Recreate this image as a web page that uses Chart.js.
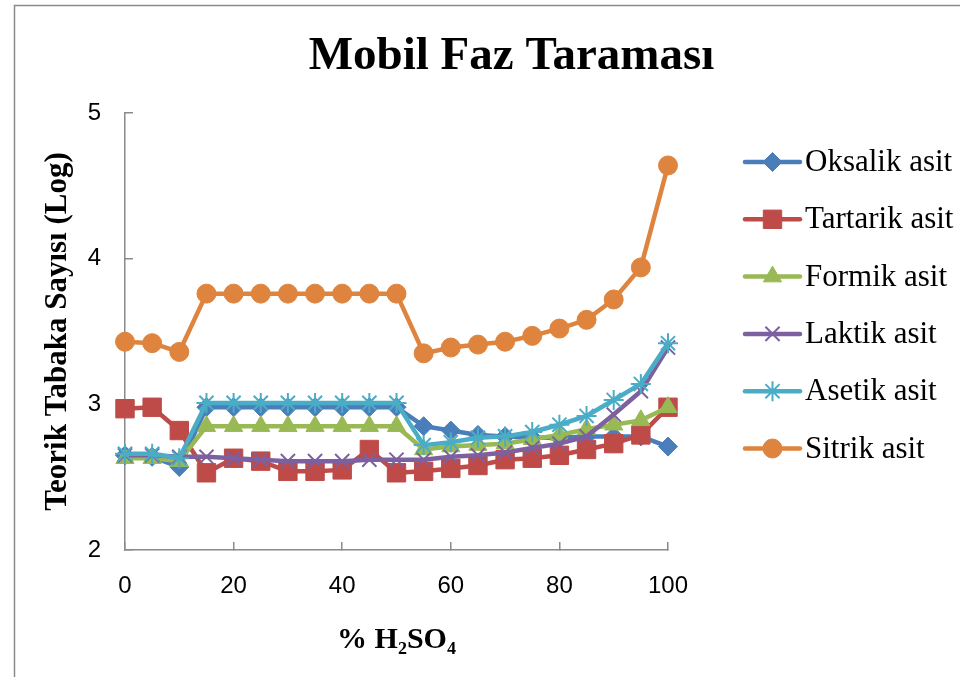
<!DOCTYPE html>
<html>
<head>
<meta charset="utf-8">
<title>Mobil Faz Taraması</title>
<script src="https://cdn.jsdelivr.net/npm/chart.js@4.4.1/dist/chart.umd.min.js"></script>
<style>
  html, body { margin: 0; padding: 0; background: #fff; overflow: hidden; }
  #chart { display: block; }
</style>
</head>
<body>
<canvas id="chart" width="1003" height="677"></canvas>
<script>
// % H2SO4 in the mobile phase
const pct = [0, 5, 10, 15, 20, 25, 30, 35, 40, 45, 50, 55, 60, 65, 70, 75, 80, 85, 90, 95, 100];

// theoretical plate number (log) per acid
const oksalik  = [2.65, 2.64, 2.57, 2.98, 2.98, 2.98, 2.98, 2.98, 2.98, 2.98, 2.98, 2.85, 2.82, 2.79, 2.78, 2.77, 2.77, 2.78, 2.78, 2.78, 2.71];
const tartarik = [2.97, 2.98, 2.82, 2.53, 2.63, 2.61, 2.54, 2.54, 2.55, 2.69, 2.53, 2.54, 2.56, 2.58, 2.62, 2.63, 2.65, 2.69, 2.73, 2.79, 2.98];
const formik   = [2.63, 2.63, 2.61, 2.85, 2.85, 2.85, 2.85, 2.85, 2.85, 2.85, 2.85, 2.69, 2.71, 2.72, 2.73, 2.76, 2.79, 2.83, 2.86, 2.89, 2.98];
const laktik   = [2.65, 2.65, 2.64, 2.64, 2.63, 2.62, 2.61, 2.61, 2.61, 2.62, 2.62, 2.62, 2.64, 2.65, 2.67, 2.70, 2.73, 2.78, 2.93, 3.09, 3.39];
const asetik   = [2.66, 2.66, 2.63, 3.01, 3.01, 3.01, 3.01, 3.01, 3.01, 3.01, 3.01, 2.72, 2.74, 2.77, 2.78, 2.81, 2.86, 2.92, 3.03, 3.14, 3.42];
const sitrik   = [3.43, 3.42, 3.36, 3.76, 3.76, 3.76, 3.76, 3.76, 3.76, 3.76, 3.76, 3.35, 3.39, 3.41, 3.43, 3.47, 3.52, 3.58, 3.72, 3.94, 4.64];

const seriesNames = ["Oksalik asit", "Tartarik asit", "Formik asit", "Laktik asit", "Asetik asit", "Sitrik asit"];
const seriesValues = [oksalik, tartarik, formik, laktik, asetik, sitrik];
const yTicks = [2, 3, 4, 5];
const xTicks = [0, 20, 40, 60, 80, 100];

const colors  = ["#4A7EBB", "#BE4B48", "#98B954", "#7D60A0", "#4BACC6", "#DE843E"];
const markers = ["rectRot", "rect", "triangle", "crossRot", "star", "circle"];
const radii   = [9.5, 13, 10.5, 10, 10, 9.5];

const serif = "'Liberation Serif', 'Times New Roman', serif";
const sans = "'Liberation Sans', Arial, sans-serif";

const datasets = seriesNames.map(function(name, i) {
  const lineMarker = markers[i] === "crossRot" || markers[i] === "star";
  return {
    label: name,
    data: seriesValues[i].map(function(v, k) { return { x: pct[k], y: v }; }),
    borderColor: colors[i],
    backgroundColor: colors[i],
    borderWidth: 4.5,
    pointStyle: markers[i],
    pointRadius: radii[i],
    pointBorderWidth: lineMarker ? 2 : 1,
    pointBorderColor: colors[i],
    pointBackgroundColor: colors[i],
    tension: 0,
    clip: false,
    order: seriesNames.length - 1 - i   // later series drawn on top
  };
});

// outer frame of the chart object
const framePlugin = {
  id: "frame",
  beforeDraw(chart) {
    const ctx = chart.ctx;
    ctx.save();
    ctx.fillStyle = "#fff";
    ctx.fillRect(0, 0, chart.width, chart.height);
    ctx.strokeStyle = "#8a8a8a";
    ctx.lineWidth = 1.5;
    ctx.strokeRect(14.5, 5.5, chart.width + 50, chart.height + 50);
    ctx.restore();
  }
};

// legend with a short line through each marker
const lineLegend = {
  id: "lineLegend",
  afterDraw(chart) {
    const ctx = chart.ctx;
    const area = chart.chartArea;
    const x0 = area.right + 77;
    const x1 = area.right + 132;
    const xm = (x0 + x1) / 2;
    ctx.save();
    chart.data.datasets.forEach(function(ds, i) {
      const y = area.top + 49 + i * 57.3;
      ctx.strokeStyle = ds.borderColor;
      ctx.lineWidth = 4.5;
      ctx.lineCap = "round";
      ctx.beginPath();
      ctx.moveTo(x0, y);
      ctx.lineTo(x1, y);
      ctx.stroke();
      ctx.lineCap = "butt";
      ctx.fillStyle = ds.pointBackgroundColor;
      ctx.strokeStyle = ds.pointBorderColor;
      ctx.lineWidth = ds.pointBorderWidth;
      Chart.helpers.drawPoint(ctx, {
        pointStyle: ds.pointStyle,
        radius: ds.pointRadius,
        rotation: 0,
        borderWidth: ds.pointBorderWidth
      }, xm, y);
      ctx.fillStyle = "#000";
      ctx.font = "31px " + serif;
      ctx.textAlign = "left";
      ctx.textBaseline = "middle";
      ctx.fillText(ds.label, area.right + 137, y + 1);
    });
    ctx.restore();
  }
};

const ctx = document.getElementById("chart").getContext("2d");
new Chart(ctx, {
  type: "line",
  data: { datasets: datasets },
  options: {
    responsive: false,
    animation: false,
    events: [],
    layout: { padding: { left: 20, right: 0, top: 0, bottom: 0 } },
    plugins: {
      legend: { display: false },
      tooltip: { enabled: false },
      title: {
        display: true,
        text: "Mobil Faz Taraması",
        color: "#000",
        font: { family: serif, size: 47, weight: "bold", lineHeight: 1.2 },
        padding: { top: 29, bottom: 27.6 }
      }
    },
    scales: {
      x: {
        type: "linear",
        position: "bottom",
        min: 0,
        max: 100,
        afterBuildTicks(scale) { scale.ticks = xTicks.map(function(v) { return { value: v }; }); },
        afterFit(scale) { scale.height = 127; },
        ticks: { color: "#000", font: { family: sans, size: 24 }, padding: 29.6, maxRotation: 0 },
        grid: { display: true, drawOnChartArea: false, drawTicks: true, tickLength: -8, color: "#8a8a8a", lineWidth: 1.5 },
        border: { display: true, color: "#8a8a8a", width: 1.5 },
        title: {
          display: true,
          text: "% H₂SO₄",
          color: "#000",
          font: { family: serif, size: 30, weight: "bold", lineHeight: 1.2 },
          padding: { top: 0, bottom: 19 }
        }
      },
      y: {
        type: "linear",
        position: "left",
        min: 2,
        max: 5,
        afterBuildTicks(scale) { scale.ticks = yTicks.map(function(v) { return { value: v }; }); },
        afterFit(scale) { scale.width = 105; },
        ticks: { color: "#000", font: { family: sans, size: 24 }, padding: 32 },
        grid: { display: true, drawOnChartArea: false, drawTicks: true, tickLength: -8, color: "#8a8a8a", lineWidth: 1.5 },
        border: { display: true, color: "#8a8a8a", width: 1.5 },
        title: {
          display: true,
          text: "Teorik Tabaka Sayısı (Log)",
          color: "#000",
          font: { family: serif, size: 31, weight: "bold", lineHeight: 1.2 },
          padding: { top: 19, bottom: 0 }
        }
      },
      // empty band on the right that holds the legend
      legendBand: {
        type: "linear",
        position: "right",
        display: true,
        ticks: { display: false },
        grid: { display: false },
        border: { display: false },
        afterFit(scale) { scale.width = 335; }
      }
    }
  },
  plugins: [framePlugin, lineLegend]
});
</script>
</body>
</html>
